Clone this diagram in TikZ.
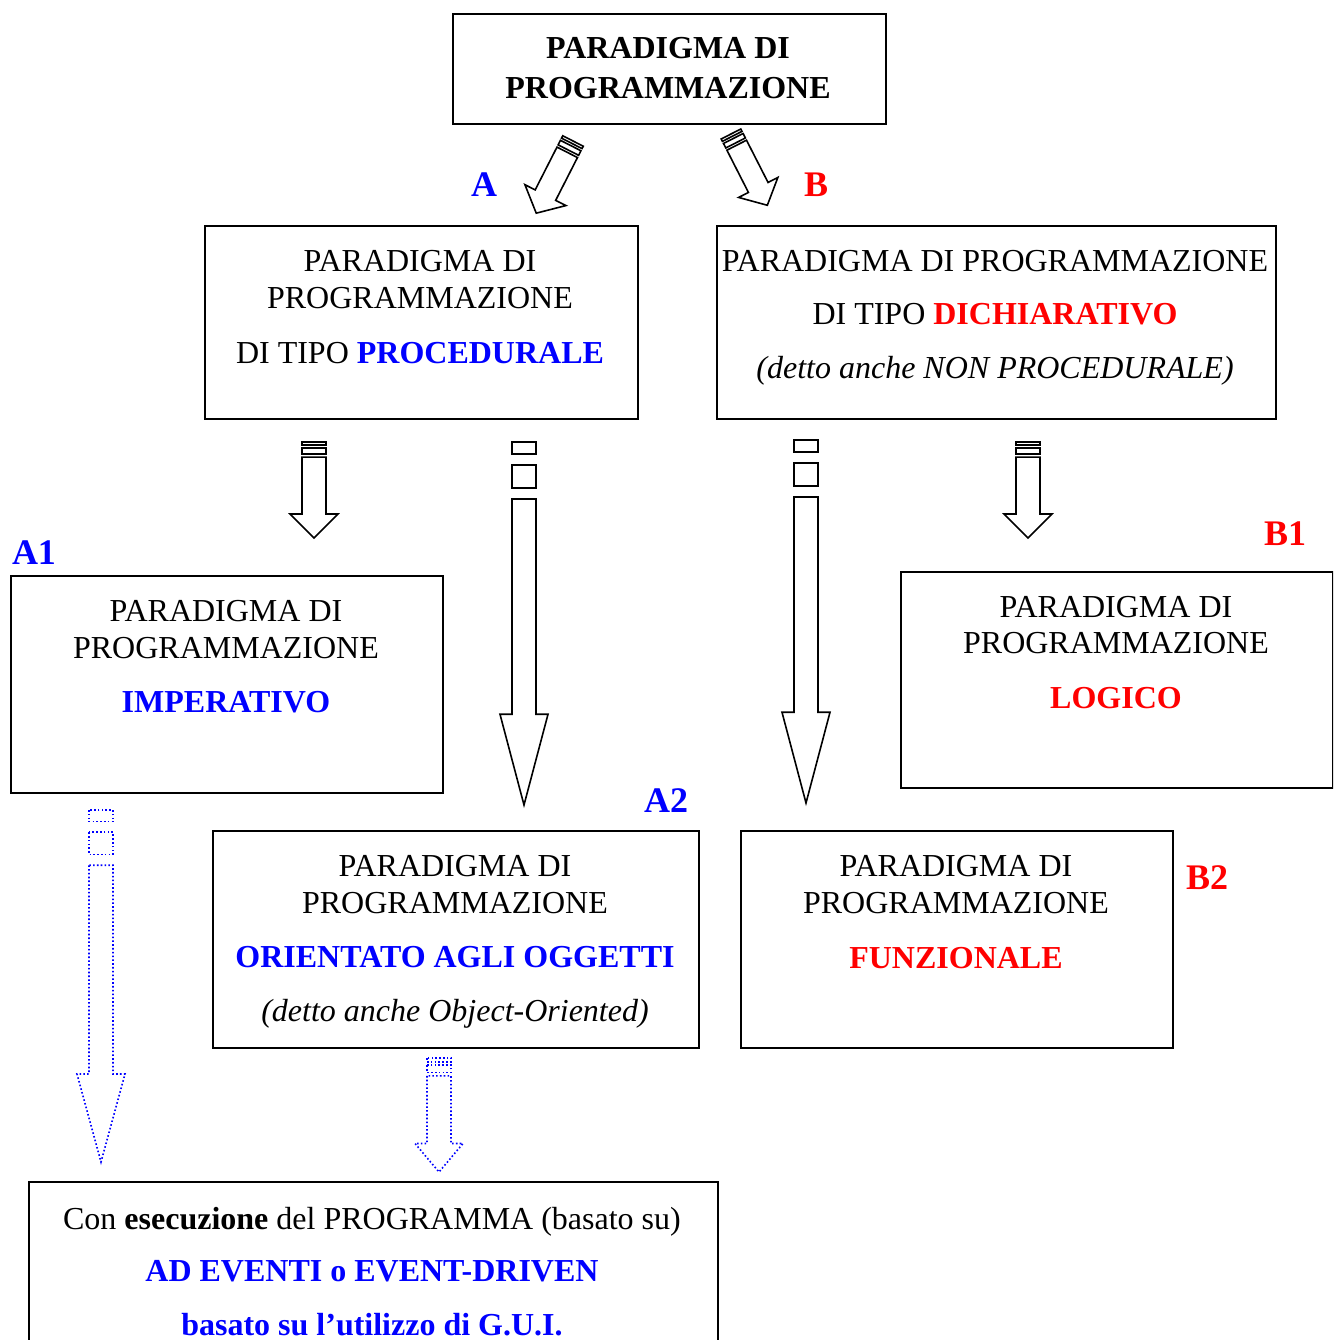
\documentclass[tikz,border=0pt]{standalone}
\usepackage{fontspec}
\setmainfont{Liberation Serif}
\definecolor{myblue}{RGB}{0,0,255}
\definecolor{myred}{RGB}{255,0,0}
\tikzset{
 box/.style={draw, line width=1.6pt, inner sep=0pt, anchor=north west},
 txt/.style={anchor=base, inner sep=0pt, font=\fontsize{32}{37}\selectfont},
 lbl/.style={anchor=base, inner sep=0pt, font=\fontsize{36}{40}\selectfont\bfseries},
 solidarrow/.style={draw=black, line width=1.6pt, fill=white, line join=miter},
 dotarrow/.style={draw=myblue, line width=1.6pt, dash pattern=on 1.6pt off 2.2pt},
}
\newcommand\striparrow[6]{%
 \begin{scope}[shift={(#1,#2)},rotate=#4]
  \pgfmathsetmacro\pa{0.033*#3}
  \pgfmathsetmacro\pb{0.063*#3}
  \pgfmathsetmacro\pc{0.126*#3}
  \pgfmathsetmacro\pd{0.157*#3}
  \pgfmathsetmacro\pe{0.75*#3}
  \draw[#6] (-#5,0) rectangle (#5,\pa);
  \draw[#6] (-#5,\pb) rectangle (#5,\pc);
  \draw[#6] (-#5,\pd) -- (-#5,\pe) -- (-2*#5,\pe) -- (0,#3) -- (2*#5,\pe) -- (#5,\pe) -- (#5,\pd) -- cycle;
 \end{scope}}
\begin{document}
\begin{tikzpicture}[x=1pt,y=-1pt]
\clip (0,0) rectangle (1333,1340);
\useasboundingbox (0,0) rectangle (1333,1340);
% boxes
\node[box, minimum width=433pt, minimum height=110pt] (top) at (452,13) {};
\node[box, minimum width=433pt, minimum height=193pt] (proc) at (204,225) {};
\node[box, minimum width=559pt, minimum height=193pt] (dich) at (716,225) {};
\node[box, minimum width=432pt, minimum height=217pt] (imp) at (10,575) {};
\node[box, minimum width=432pt, minimum height=216pt] (log) at (900,571) {};
\node[box, minimum width=486pt, minimum height=217pt] (oo) at (212,830) {};
\node[box, minimum width=432pt, minimum height=217pt] (fun) at (740,830) {};
\node[box, minimum width=689pt, minimum height=200pt] (gui) at (28,1181) {};
% texts
\node[txt, font=\fontsize{32}{37}\selectfont\bfseries] (top1) at (668,59) {PARADIGMA DI};
\node[txt, font=\fontsize{32}{37}\selectfont\bfseries] (top2) at (668,99) {PROGRAMMAZIONE};
\node[txt] (p1) at (420,271) {PARADIGMA DI};
\node[txt] (p2) at (420,308) {PROGRAMMAZIONE};
\node[txt] (p3) at (420,363) {DI TIPO \textcolor{myblue}{\textbf{PROCEDURALE}}};
\node[txt] (d1) at (995,271) {PARADIGMA DI PROGRAMMAZIONE};
\node[txt] (d2) at (995,324) {DI TIPO \textcolor{myred}{\textbf{DICHIARATIVO}}};
\node[txt] (d3) at (995,378) {\itshape (detto anche NON PROCEDURALE)};
\node[txt] (i1) at (226,621) {PARADIGMA DI};
\node[txt] (i2) at (226,658) {PROGRAMMAZIONE};
\node[txt, text=myblue, font=\fontsize{32}{37}\selectfont\bfseries] (i3) at (226,712) {IMPERATIVO};
\node[txt] (l1) at (1116,617) {PARADIGMA DI};
\node[txt] (l2) at (1116,653) {PROGRAMMAZIONE};
\node[txt, text=myred, font=\fontsize{32}{37}\selectfont\bfseries] (l3) at (1116,708) {LOGICO};
\node[txt] (o1) at (455,876) {PARADIGMA DI};
\node[txt] (o2) at (455,913) {PROGRAMMAZIONE};
\node[txt, text=myblue, font=\fontsize{32}{37}\selectfont\bfseries] (o3) at (455,967) {ORIENTATO AGLI OGGETTI};
\node[txt] (o4) at (455,1021) {\itshape (detto anche Object-Oriented)};
\node[txt] (f1) at (956,876) {PARADIGMA DI};
\node[txt] (f2) at (956,913) {PROGRAMMAZIONE};
\node[txt, text=myred, font=\fontsize{32}{37}\selectfont\bfseries] (f3) at (956,968) {FUNZIONALE};
\node[txt] (g1) at (372,1229) {Con \textbf{esecuzione} del PROGRAMMA (basato su)};
\node[txt, text=myblue, font=\fontsize{32}{37}\selectfont\bfseries] (g2) at (372,1281) {AD EVENTI o EVENT-DRIVEN};
\node[txt, text=myblue, font=\fontsize{32}{37}\selectfont\bfseries] (g3) at (372,1335) {basato su l’utilizzo di G.U.I.};
% labels
\node[lbl, text=myblue] (lA) at (484,197) {A};
\node[lbl, text=myred] (lB) at (816,197) {B};
\node[lbl, text=myblue] (lA1) at (34,564) {A1};
\node[lbl, text=myred] (lB1) at (1285,545) {B1};
\node[lbl, text=myblue] (lA2) at (666,812) {A2};
\node[lbl, text=myred] (lB2) at (1207,889) {B2};
% arrows
\striparrow{573}{141}{81}{-27}{11.5}{solidarrow}
\striparrow{731}{134}{80}{27}{11}{solidarrow}
\striparrow{314}{442}{96}{0}{12}{solidarrow}
\striparrow{524}{442}{363}{0}{12}{solidarrow}
\striparrow{806}{440}{363}{0}{12}{solidarrow}
\striparrow{1028}{442}{96}{0}{12}{solidarrow}
\striparrow{101}{810}{352}{0}{12}{dotarrow}
\striparrow{439}{1058}{114}{0}{12}{dotarrow}
\end{tikzpicture}
\end{document}
